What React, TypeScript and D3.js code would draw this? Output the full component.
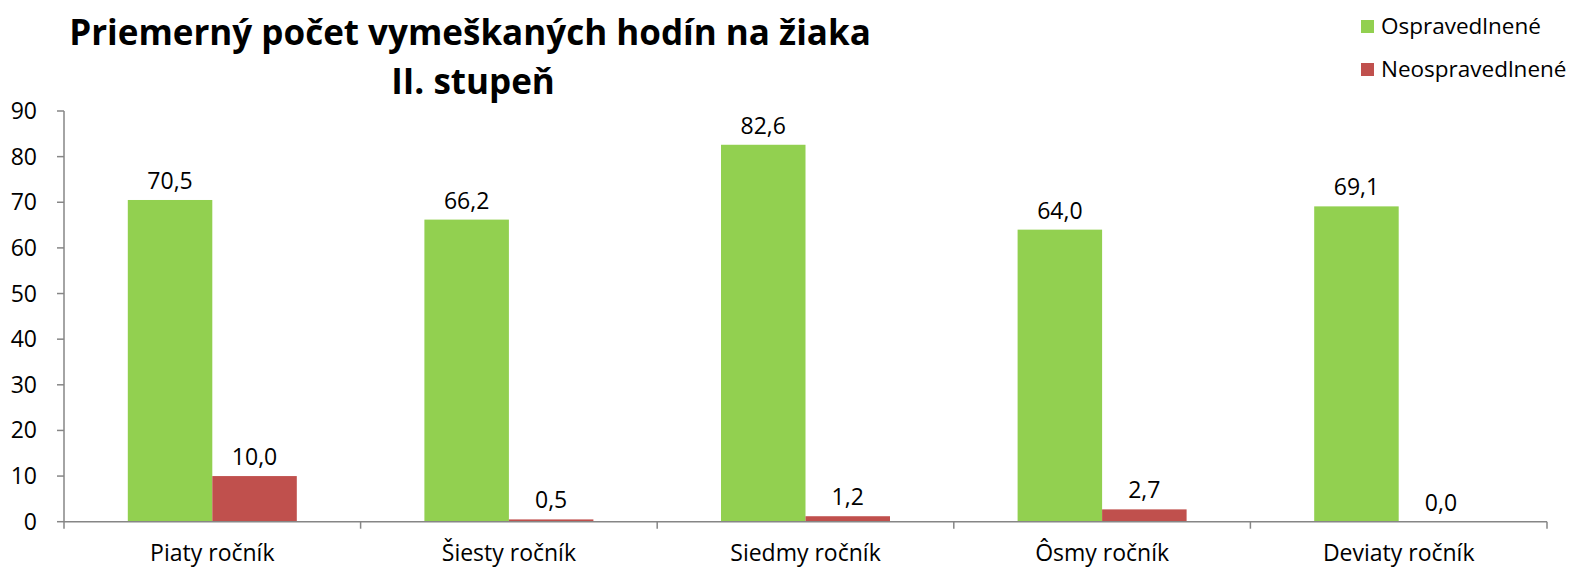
import React from "react";
import * as d3 from "d3";

const categories = ["Piaty ročník", "Šiesty ročník", "Siedmy ročník", "Ôsmy ročník", "Deviaty ročník"];
const seriesNames = ["Ospravedlnené", "Neospravedlnené"];
const excused = [70.5, 66.2, 82.6, 64.0, 69.1];
const unexcused = [10.0, 0.5, 1.2, 2.7, 0.0];
const yTicks = [0, 10, 20, 30, 40, 50, 60, 70, 80, 90];
const titleLines = ["Priemerný počet vymeškaných hodín na žiaka", "II. stupeň"];
const colors = ["#92D050", "#C0504D"];

const W = 1577;
const H = 569;
const FONT = "'Open Sans', 'Noto Sans', sans-serif";

export default function App() {
  const left = 64, right = 1547, top = 111, bottom = 521.7;
  const x0 = d3.scaleBand<string>().domain(categories).range([left, right]).padding(0);
  const x1 = d3.scaleBand<string>().domain(seriesNames).range([0, x0.bandwidth()]).paddingInner(0).paddingOuter(0.755);
  const y = d3.scaleLinear().domain([0, 90]).range([bottom, top]);
  const values = [excused, unexcused];
  const fmt = (v: number) => v.toFixed(1).replace(".", ",");
  const axisColor = "#868686";

  return (
    <svg width={W} height={H} style={{ position: "absolute", left: 0, top: 0, background: "#fff" }} fontFamily={FONT}>
      {/* title */}
      <text x={470} y={45} textAnchor="middle" fontSize={35} fontWeight="bold" fill="#000">{titleLines[0]}</text>
      <text x={473} y={94} textAnchor="middle" fontSize={35} fontWeight="bold" fill="#000">{titleLines[1]}</text>

      {/* legend */}
      {seriesNames.map((s, i) => (
        <g key={s} transform={`translate(1361, ${20 + i * 43})`}>
          <rect x={0} y={0} width={13} height={13} fill={colors[i]} />
          <text x={20} y={6.5} dy="0.35em" fontSize={22.5} fill="#000">{s}</text>
        </g>
      ))}

      {/* y axis */}
      <line x1={left} x2={left} y1={top} y2={bottom} stroke={axisColor} strokeWidth={1.5} />
      {yTicks.map((t) => (
        <g key={t}>
          <line x1={left - 7} x2={left} y1={y(t)} y2={y(t)} stroke={axisColor} strokeWidth={1.5} />
          <text x={37} y={y(t)} dy="0.35em" textAnchor="end" fontSize={23} fill="#000">{t}</text>
        </g>
      ))}

      {/* bars */}
      {categories.map((c, ci) => (
        <g key={c} transform={`translate(${x0(c)},0)`}>
          {seriesNames.map((s, si) => {
            const v = values[si][ci];
            const bx = x1(s)!;
            return (
              <g key={s}>
                <rect x={bx} y={y(v)} width={x1.bandwidth()} height={bottom - y(v)} fill={colors[si]} />
                <text x={bx + x1.bandwidth() / 2} y={y(v) - 19} dy="0.35em" textAnchor="middle" fontSize={23} fill="#000">{fmt(v)}</text>
              </g>
            );
          })}
        </g>
      ))}

      {/* x axis */}
      <line x1={left} x2={right} y1={bottom} y2={bottom} stroke={axisColor} strokeWidth={1.5} />
      {[...categories.map((c) => x0(c)!), right].map((tx, i) => (
        <line key={i} x1={tx} x2={tx} y1={bottom} y2={bottom + 7} stroke={axisColor} strokeWidth={1.5} />
      ))}
      {categories.map((c) => (
        <text key={c} x={x0(c)! + x0.bandwidth() / 2} y={553} dy="0.35em" textAnchor="middle" fontSize={23} fill="#000">{c}</text>
      ))}
    </svg>
  );
}
